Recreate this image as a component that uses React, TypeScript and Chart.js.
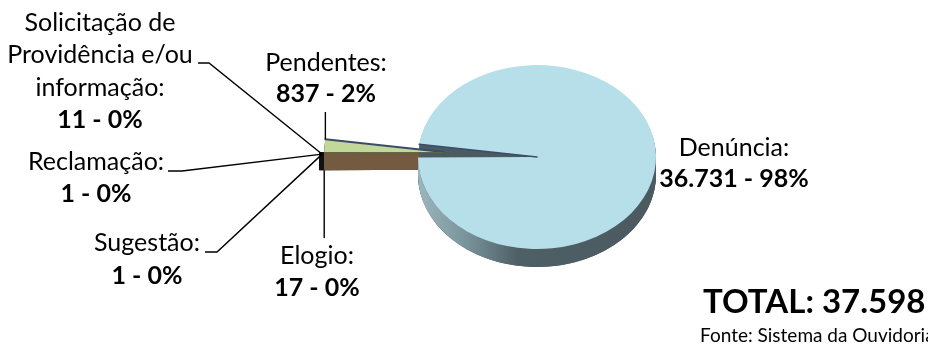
import React, { useEffect, useRef } from "react";
import { Chart, registerables } from "chart.js";

Chart.register(...registerables);

// ---- data ----
const categories = [
  "Denúncia",
  "Solicitação de Providência e/ou informação",
  "Reclamação",
  "Sugestão",
  "Elogio",
  "Pendentes",
];
const values = [36731, 11, 1, 1, 17, 837];
const labelLines = [
  ["Denúncia:"],
  ["Solicitação de", "Providência e/ou", "informação:"],
  ["Reclamação:"],
  ["Sugestão:"],
  ["Elogio:"],
  ["Pendentes:"],
];
const totalText = "TOTAL: 37.598";
const sourceText = "Fonte: Sistema da Ouvidoria";

// ---- styles / layout ----
const topColors = ["#b7dfe9", "#111111", "#111111", "#111111", "#735a40", "#c4d79b"];
const sideColors = ["#4b5b61", "#111111", "#111111", "#111111", "#735a40", "#735a40"];
const explode = [0, 99, 99, 99, 94, 94];
const RADIUS = 119;
const TILT = 92 / 119;
const DEPTH = 18;
const FONT = "Lato, 'Open Sans', sans-serif";

type Lay = { x: number; y: number; step: number; leader: any };
const labelLayout: Lay[] = [
  { x: 734, y: 156, step: 31, leader: null },
  { x: 100, y: 31, step: 32.3, leader: { from: [198, 63], to: [209, 63] } },
  { x: 96, y: 170, step: 32, leader: { from: [168, 171], to: [182, 171] } },
  { x: 147, y: 251, step: 33, leader: { from: [205, 252], to: [217, 252] } },
  { x: 317, y: 264, step: 32, leader: { vertical: 238 } },
  { x: 326, y: 71, step: 31, leader: { vertical: 112 } },
];

const total = values.reduce((a, b) => a + b, 0);
const fmt = (v: number) => String(v).replace(/\B(?=(\d{3})+(?!\d))/g, ".");
const pct = (v: number) => Math.round((v / total) * 100) + "%";
// tiny slices sit at the left, Pendentes just above them
const rotationDeg = 270 + (values[5] / total) * 360;

// the exploded group (every slice but the first) moves along the group's bisector
function groupAngle(els: any[]): number {
  return (els[1].startAngle + els[els.length - 1].endAngle) / 2;
}

function shiftOf(els: any[], i: number): [number, number] {
  const t = explode[i];
  if (!t) return [0, 0];
  const a = groupAngle(els);
  return [Math.cos(a) * t, Math.sin(a) * t];
}

function toScreen(el: any, px: number, py: number): [number, number] {
  return [px, el.y + (py - el.y) * TILT];
}

function outerPoint(els: any[], i: number, angle: number): [number, number] {
  const el = els[i];
  const [dx, dy] = shiftOf(els, i);
  return toScreen(el, el.x + dx + Math.cos(angle) * el.outerRadius, el.y + dy + Math.sin(angle) * el.outerRadius);
}

// draw one slice with the library's arc element, exploded, tilted and lowered by `down` px
function drawSlice(ctx: CanvasRenderingContext2D, els: any[], i: number, color: any, down: number) {
  const el = els[i];
  const [dx, dy] = shiftOf(els, i);
  ctx.save();
  ctx.translate(el.x, el.y + down);
  ctx.scale(1, TILT);
  ctx.translate(-el.x + dx, -el.y + dy);
  const o = el.options;
  el.options = Object.assign({}, o, { backgroundColor: color, borderWidth: 0, offset: 0 });
  el.draw(ctx);
  el.options = o;
  ctx.restore();
}

const pie3d = {
  id: "pie3d",
  beforeDatasetsDraw(chart: any) {
    const ctx: CanvasRenderingContext2D = chart.ctx;
    const els = chart.getDatasetMeta(0).data;
    const main = els[0];
    // cut faces of the tiny exploded slices
    [1, 2, 3].forEach((i) => {
      const el = els[i];
      const [dx, dy] = shiftOf(els, i);
      const c = toScreen(el, el.x + dx, el.y + dy);
      const p = outerPoint(els, i, el.startAngle);
      ctx.save();
      ctx.fillStyle = sideColors[i];
      ctx.beginPath();
      ctx.moveTo(c[0], c[1]);
      ctx.lineTo(p[0], p[1]);
      ctx.lineTo(p[0], p[1] + DEPTH);
      ctx.lineTo(c[0], c[1] + DEPTH);
      ctx.closePath();
      ctx.fill();
      ctx.restore();
    });
    // side of Pendentes
    for (let d = DEPTH; d >= 1; d--) drawSlice(ctx, els, 5, sideColors[5], d);
    // side of Denúncia
    for (let d = DEPTH; d >= 1; d--) drawSlice(ctx, els, 0, sideColors[0], d);
    // shaded outer wall of Denúncia
    const R = main.outerRadius;
    const g = ctx.createLinearGradient(main.x - R, 0, main.x + R, 0);
    g.addColorStop(0, "#9cb6be");
    g.addColorStop(0.2, "#7a949c");
    g.addColorStop(0.42, "#4e5f65");
    g.addColorStop(1, "#4a5a60");
    ctx.save();
    ctx.fillStyle = g;
    ctx.beginPath();
    ctx.ellipse(main.x, main.y, R, R * TILT, 0, 0, Math.PI, false);
    ctx.ellipse(main.x, main.y + DEPTH, R, R * TILT, 0, Math.PI, 0, true);
    ctx.closePath();
    ctx.fill();
    ctx.restore();
    // top faces
    for (let i = 0; i < els.length; i++) drawSlice(ctx, els, i, topColors[i], 0);
    // edges
    ctx.save();
    ctx.strokeStyle = "#3b4c6b";
    ctx.lineCap = "round";
    {
      const pend = els[5];
      const [dx, dy] = shiftOf(els, 5);
      const c = toScreen(pend, pend.x + dx, pend.y + dy);
      const p = outerPoint(els, 5, pend.endAngle);
      ctx.lineWidth = 2;
      ctx.beginPath();
      ctx.moveTo(p[0], p[1]);
      ctx.lineTo(c[0], c[1]);
      ctx.stroke();
      // seam between top and side
      const q = outerPoint(els, 5, pend.startAngle);
      ctx.strokeStyle = "#5d6a45";
      ctx.lineWidth = 1;
      ctx.beginPath();
      ctx.moveTo(q[0], q[1] + 0.5);
      ctx.lineTo(c[0], c[1] + 0.5);
      ctx.stroke();
    }
    {
      const p = outerPoint(els, 0, main.startAngle);
      ctx.strokeStyle = "#3b4c6b";
      ctx.lineWidth = 1.5;
      ctx.beginPath();
      ctx.moveTo(p[0], p[1]);
      ctx.lineTo(main.x, main.y);
      ctx.stroke();
    }
    ctx.restore();
    return false;
  },
  afterDraw(chart: any) {
    const ctx: CanvasRenderingContext2D = chart.ctx;
    const els = chart.getDatasetMeta(0).data;
    ctx.save();
    ctx.fillStyle = "#000";
    ctx.strokeStyle = "#000";
    ctx.lineWidth = 1.4;
    ctx.textAlign = "center";
    ctx.textBaseline = "alphabetic";
    labelLayout.forEach((lay, i) => {
      const lines = labelLines[i];
      ctx.font = `25px ${FONT}`;
      lines.forEach((t, j) => ctx.fillText(t, lay.x, lay.y + j * lay.step));
      ctx.font = `bold 25px ${FONT}`;
      ctx.fillText(`${fmt(values[i])} - ${pct(values[i])}`, lay.x, lay.y + lines.length * lay.step);
      const L = lay.leader;
      if (!L) return;
      const el = els[i];
      ctx.beginPath();
      if (L.vertical !== undefined) {
        const up = L.vertical < el.y;
        const p = up ? outerPoint(els, i, el.endAngle) : outerPoint(els, i, el.startAngle);
        const py = up ? p[1] : p[1] + DEPTH;
        ctx.moveTo(p[0], L.vertical);
        ctx.lineTo(p[0], py);
      } else {
        const p = outerPoint(els, i, el.startAngle);
        ctx.moveTo(L.from[0], L.from[1]);
        ctx.lineTo(L.to[0], L.to[1]);
        ctx.lineTo(p[0] + 3, p[1] + 2);
      }
      ctx.stroke();
    });
    ctx.textAlign = "left";
    ctx.font = `bold 33px ${FONT}`;
    ctx.fillText(totalText, 703, 313);
    ctx.font = `19px ${FONT}`;
    ctx.fillText(sourceText, 700, 342);
    ctx.restore();
  },
};

export default function App() {
  const ref = useRef<HTMLCanvasElement>(null);
  useEffect(() => {
    document.body.style.margin = "0";
    const canvas = ref.current!;
    const chart = new Chart(canvas, {
      type: "pie",
      data: {
        labels: categories,
        datasets: [
          {
            data: values,
            backgroundColor: topColors,
            borderWidth: 0,
            hoverOffset: 0,
            clip: false,
            rotation: rotationDeg,
            radius: RADIUS,
          } as any,
        ],
      },
      options: {
        responsive: false,
        animation: false,
        events: [],
        rotation: rotationDeg,
        layout: { padding: { left: 300, right: 154, top: 20, bottom: 50 } },
        plugins: { legend: { display: false }, tooltip: { enabled: false } },
      } as any,
      plugins: [pie3d],
    });
    let alive = true;
    Promise.all([
      document.fonts.load(`25px Lato`),
      document.fonts.load(`bold 25px Lato`),
    ]).then(() => {
      if (alive) chart.draw();
    });
    return () => {
      alive = false;
      chart.destroy();
    };
  }, []);
  return (
    <div style={{ width: 928, height: 344, background: "#fff" }}>
      <canvas ref={ref} width={928} height={344} style={{ display: "block", width: 928, height: 344 }} />
    </div>
  );
}
